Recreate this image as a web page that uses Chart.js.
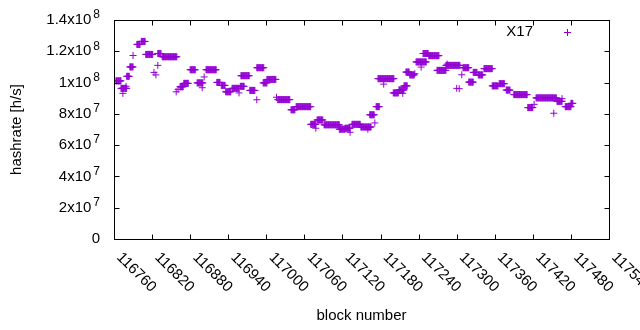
<!DOCTYPE html>
<html>
<head>
<meta charset="utf-8">
<script src="https://cdn.jsdelivr.net/npm/chart.js@4.4.1/dist/chart.umd.min.js"></script>
<style>
  html, body { margin: 0; padding: 0; background: #fff; }
  #wrap { width: 640px; height: 330px; }
</style>
</head>
<body>
<div id="wrap"><canvas id="hashChart" width="640" height="330"></canvas></div>
<script>
// runs of blocks that share the same hashrate estimate (start block, end block, h/s)
const runStart = [116763, 116771, 116779, 116774, 116780, 116785, 116790, 116796, 116803, 116810,
  116823, 116826, 116829, 116829, 116836, 116858, 116861, 116864, 116870, 116880,
  116891, 116899, 116902, 116905, 116922, 116929, 116936, 116946, 116957, 116959,
  116960, 116974, 116985, 116985, 116995, 117001, 117016, 117018, 117039, 117047,
  117070, 117078, 117080, 117091, 117115, 117124, 117132, 117135, 117149, 117160,
  117171, 117163, 117173, 117176, 117185, 117200, 117209, 117215, 117217, 117220,
  117226, 117234, 117236, 117244, 117247, 117256, 117269, 117283, 117285, 117300,
  117304, 117308, 117310, 117319, 117326, 117334, 117343, 117356, 117367, 117378,
  117390, 117412, 117422, 117425, 117453, 117458, 117466, 117471, 117480];
const runEnd = [116771, 116780, 116779, 116774, 116784, 116790, 116790, 116801, 116809, 116821,
  116823, 116826, 116829, 116834, 116859, 116858, 116861, 116869, 116877, 116888,
  116900, 116899, 116902, 116921, 116927, 116935, 116944, 116957, 116957, 116965,
  116973, 116982, 116985, 116996, 117001, 117015, 117016, 117037, 117045, 117070,
  117078, 117078, 117089, 117115, 117124, 117132, 117132, 117148, 117165, 117160,
  117171, 117170, 117178, 117201, 117185, 117208, 117217, 117215, 117222, 117225,
  117233, 117234, 117252, 117244, 117255, 117272, 117283, 117305, 117285, 117300,
  117304, 117308, 117319, 117326, 117332, 117341, 117356, 117365, 117375, 117384,
  117411, 117420, 117422, 117457, 117453, 117466, 117466, 117480, 117483];
const runRate = [1.011e8, 0.963e8, 0.976e8, 0.931e8, 1.040e8, 1.100e8, 1.173e8, 1.244e8, 1.263e8, 1.180e8,
  1.065e8, 1.049e8, 1.110e8, 1.186e8, 1.165e8, 0.941e8, 0.957e8, 0.973e8, 0.995e8, 1.082e8,
  0.998e8, 0.967e8, 1.036e8, 1.082e8, 1.001e8, 0.982e8, 0.941e8, 0.963e8, 0.934e8, 0.976e8,
  1.044e8, 0.950e8, 0.890e8, 1.095e8, 0.998e8, 1.020e8, 0.906e8, 0.891e8, 0.826e8, 0.846e8,
  0.733e8, 0.708e8, 0.761e8, 0.730e8, 0.702e8, 0.708e8, 0.682e8, 0.733e8, 0.716e8, 0.702e8,
  0.742e8, 0.794e8, 0.846e8, 1.025e8, 0.990e8, 0.934e8, 0.953e8, 0.931e8, 0.979e8, 1.067e8,
  1.049e8, 1.057e8, 1.132e8, 1.099e8, 1.186e8, 1.172e8, 1.078e8, 1.110e8, 1.118e8, 0.963e8,
  0.961e8, 1.050e8, 1.095e8, 1.003e8, 1.065e8, 1.049e8, 1.089e8, 0.979e8, 0.993e8, 0.952e8,
  0.923e8, 0.840e8, 0.861e8, 0.902e8, 0.804e8, 0.880e8, 0.897e8, 0.846e8, 0.867e8];

const seriesLabel = 'X17';
const xTicks = [116760, 116820, 116880, 116940, 117000, 117060, 117120, 117180, 117240, 117300, 117360, 117420, 117480, 117540];
const yTicks = [0, 2e7, 4e7, 6e7, 8e7, 1e8, 1.2e8, 1.4e8];

const points = [];
for (let i = 0; i < runStart.length; i++) {
  for (let b = runStart[i]; b <= runEnd[i]; b++) {
    points.push({x: b, y: runRate[i]});
  }
}

const FONT = '"Liberation Sans", Arial, sans-serif';
const PURPLE = '#9400d3';

function drawCross(ctx, x, y, r) {
  ctx.beginPath();
  ctx.moveTo(x - r, y); ctx.lineTo(x + r, y);
  ctx.moveTo(x, y - r); ctx.lineTo(x, y + r);
  ctx.stroke();
}

// gnuplot style frame, mirrored inward ticks, labels, legend
const gnuFrame = {
  id: 'gnuFrame',
  afterDatasetsDraw(chart) {
    const ctx = chart.ctx;
    const a = chart.chartArea;
    const xs = chart.scales.x, ys = chart.scales.y;
    const L = Math.round(a.left) + 0.5, R = Math.round(a.right) + 0.5;
    const T = Math.round(a.top) + 0.5, B = Math.round(a.bottom) + 0.5;
    ctx.save();
    ctx.strokeStyle = '#000';
    ctx.lineWidth = 1;
    ctx.strokeRect(L, T, R - L, B - T);
    ctx.beginPath();
    yTicks.forEach(v => {
      const y = Math.round(ys.getPixelForValue(v)) + 0.5;
      ctx.moveTo(L, y); ctx.lineTo(L + 5, y);
      ctx.moveTo(R, y); ctx.lineTo(R - 5, y);
    });
    xTicks.forEach(v => {
      const x = Math.round(xs.getPixelForValue(v)) + 0.5;
      ctx.moveTo(x, B); ctx.lineTo(x, B - 5);
      ctx.moveTo(x, T); ctx.lineTo(x, T + 5);
    });
    ctx.stroke();

    ctx.fillStyle = '#000';
    // y tick labels with superscript exponent
    yTicks.forEach(v => {
      const y = ys.getPixelForValue(v);
      const rightEdge = 100;
      if (v === 0) {
        ctx.font = '15px ' + FONT;
        ctx.textAlign = 'right';
        ctx.textBaseline = 'middle';
        ctx.fillText('0', rightEdge, y);
        return;
      }
      const e = Math.floor(Math.log10(v) + 1e-9);
      const m = +(v / Math.pow(10, e)).toFixed(1);
      ctx.font = '12px ' + FONT;
      const expW = ctx.measureText(String(e)).width;
      ctx.textAlign = 'right';
      ctx.textBaseline = 'middle';
      ctx.fillText(String(e), rightEdge, y - 5);
      ctx.font = '15px ' + FONT;
      ctx.fillText(m + 'x10', rightEdge - expW - 2, y);
    });

    // x tick labels rotated by -45 (gnuplot sense)
    ctx.font = '15px ' + FONT;
    xTicks.forEach(v => {
      const x = xs.getPixelForValue(v);
      ctx.save();
      ctx.translate(x + 5, 255);
      ctx.rotate(Math.PI / 4);
      ctx.textAlign = 'left';
      ctx.textBaseline = 'middle';
      ctx.fillText(String(v), 0, 0);
      ctx.restore();
    });

    // axis titles
    ctx.textAlign = 'center';
    ctx.textBaseline = 'middle';
    ctx.fillText('block number', (a.left + a.right) / 2, 316);
    ctx.save();
    ctx.translate(17, (a.top + a.bottom) / 2);
    ctx.rotate(-Math.PI / 2);
    ctx.fillText('hashrate [h/s]', 0, 0);
    ctx.restore();

    // legend
    ctx.textAlign = 'right';
    ctx.fillText(chart.data.datasets[0].label, 533, 32);
    ctx.strokeStyle = PURPLE;
    drawCross(ctx, 567.5, 32.5, 3.5);
    ctx.restore();
  }
};

new Chart('hashChart', {
  type: 'scatter',
  data: {
    datasets: [{
      label: seriesLabel,
      data: points,
      pointStyle: 'cross',
      pointRadius: 3.5,
      pointHoverRadius: 3.5,
      borderColor: PURPLE,
      backgroundColor: PURPLE,
      borderWidth: 1,
      showLine: false
    }]
  },
  options: {
    responsive: false,
    animation: false,
    events: [],
    layout: { padding: { top: 20, right: 31, left: 0, bottom: 0 } },
    plugins: { legend: { display: false }, tooltip: { enabled: false } },
    scales: {
      x: {
        type: 'linear',
        min: 116760,
        max: 117540,
        ticks: { display: false, stepSize: 60 },
        grid: { display: false },
        border: { display: false },
        afterFit(scale) { scale.height = 91; }
      },
      y: {
        min: 0,
        max: 1.4e8,
        ticks: { display: false, stepSize: 2e7 },
        grid: { display: false },
        border: { display: false },
        afterFit(scale) { scale.width = 114; }
      }
    }
  },
  plugins: [gnuFrame]
});
</script>
</body>
</html>
